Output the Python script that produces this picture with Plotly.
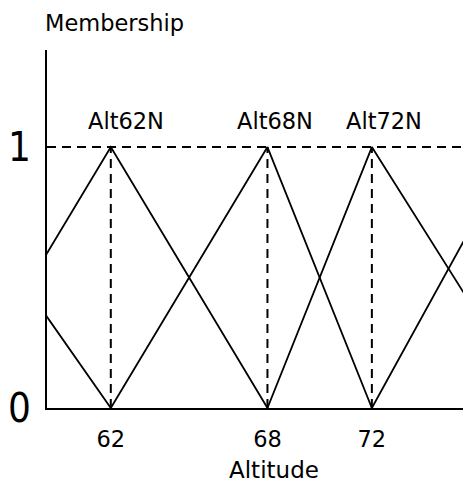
import plotly.graph_objects as go

# ---- data ----
mf_names = ["", "Alt62N", "Alt68N", "Alt72N", ""]
mf_left = [48, 56, 62, 68, 72]
mf_peak = [55, 62, 68, 72, 77.5]
mf_right = [62, 68, 72, 78.3, 83]
x_ticks = [62, 68, 72]
x_tick_labels = ["62", "68", "72"]
y_ticks = [0, 1]
y_tick_labels = ["0", "1"]
label_xshift = [0, 15, 8, 12, 0]

X_RANGE = [59.556, 75.797]
Y_RANGE = [0, 1.372]

fig = go.Figure()

# triangular membership functions
for a, b, c in zip(mf_left, mf_peak, mf_right):
    fig.add_trace(go.Scatter(
        x=[a, b, c], y=[0, 1, 0], mode="lines",
        line=dict(color="black", width=1.8),
        hoverinfo="skip", showlegend=False))

# dashed verticals at the labelled peaks
for xt in x_ticks:
    fig.add_trace(go.Scatter(
        x=[xt, xt], y=[0, 1], mode="lines",
        line=dict(color="black", width=2, dash="9px,6px"),
        hoverinfo="skip", showlegend=False))

# dashed line at membership 1
fig.add_shape(type="line", xref="paper", x0=0, x1=1, yref="y", y0=1, y1=1,
              line=dict(color="black", width=2, dash="9px,6px"))

TXT = "DejaVu Sans"
annotations = []
for name, b, dx in zip(mf_names, mf_peak, label_xshift):
    if name:
        annotations.append(dict(
            x=b, y=1, xref="x", yref="y", text=name, showarrow=False,
            xanchor="center", yanchor="middle", xshift=dx, yshift=26,
            font=dict(family=TXT, size=22.5, color="black")))

annotations.append(dict(
    x=0, y=1, xref="paper", yref="paper", text="Membership", showarrow=False,
    xanchor="left", yanchor="middle", xshift=-4, yshift=27,
    font=dict(family=TXT, size=22.5, color="black")))
annotations.append(dict(
    x=0.535, y=0, xref="paper", yref="paper", text="Altitude", showarrow=False,
    xanchor="center", yanchor="middle", yshift=-62,
    font=dict(family=TXT, size=23, color="black")))

# the page body has an 8px margin, so the figure is sized/offset to fill
# the 471x482 window exactly
fig.update_layout(
    width=463, height=474,
    margin=dict(l=31, r=0, t=42, b=74, pad=0),
    paper_bgcolor="white", plot_bgcolor="white",
    showlegend=False,
    annotations=annotations,
    xaxis=dict(range=X_RANGE, showgrid=False, zeroline=False,
               showline=True, linecolor="black", linewidth=2,
               tickmode="array", tickvals=x_ticks, ticktext=x_tick_labels,
               ticks="", ticklabelstandoff=10,
               tickfont=dict(family=TXT, size=22.5, color="black")),
    yaxis=dict(range=Y_RANGE, showgrid=False, zeroline=False,
               showline=True, linecolor="black", linewidth=2,
               tickmode="array", tickvals=y_ticks, ticktext=y_tick_labels,
               ticks="", ticklabelstandoff=6,
               tickfont=dict(family="DejaVu Sans Condensed, DejaVu Sans",
                             size=40, weight=200, color="black")),
)

fig.write_html("out.html")
